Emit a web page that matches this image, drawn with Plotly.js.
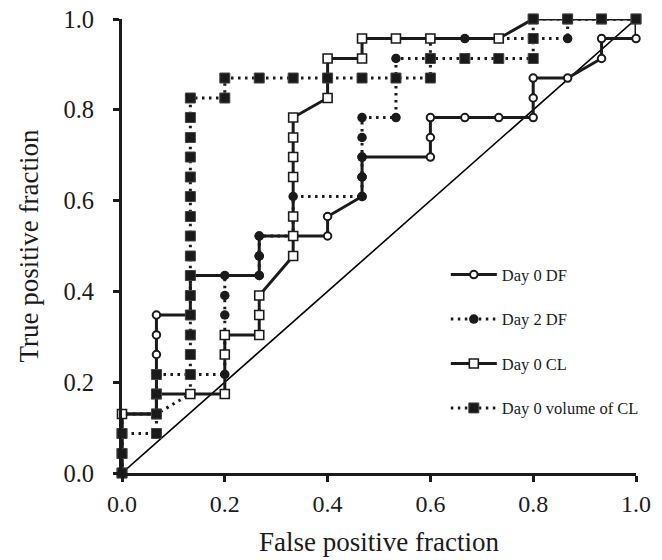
<!DOCTYPE html>
<html>
<head>
<meta charset="utf-8">
<script src="https://cdn.plot.ly/plotly-3.0.1.min.js"></script>
<style>html,body{margin:0;padding:0;background:#fff;}#chart{width:662px;height:560px;}</style>
</head>
<body>
<div id="chart"></div>
<script>
const seriesNames = ["Day 0 DF", "Day 2 DF", "Day 0 CL", "Day 0 volume of CL"];

const day0DF_x = [0, 0, 0, 0, 0.067, 0.067, 0.067, 0.067, 0.067, 0.067, 0.133, 0.133, 0.133, 0.267, 0.267, 0.267, 0.4, 0.4, 0.467, 0.467, 0.467, 0.6, 0.6, 0.6, 0.667, 0.733, 0.8, 0.8, 0.8, 0.867, 0.933, 0.933, 1, 1];
const day0DF_y = [0, 0.043, 0.087, 0.13, 0.13, 0.174, 0.217, 0.261, 0.304, 0.348, 0.348, 0.391, 0.435, 0.435, 0.478, 0.522, 0.522, 0.565, 0.609, 0.652, 0.696, 0.696, 0.739, 0.783, 0.783, 0.783, 0.783, 0.826, 0.87, 0.87, 0.913, 0.957, 0.957, 1];

const day2DF_x = [0, 0, 0, 0, 0.067, 0.133, 0.133, 0.2, 0.2, 0.2, 0.2, 0.2, 0.2, 0.267, 0.267, 0.267, 0.333, 0.333, 0.333, 0.467, 0.467, 0.467, 0.467, 0.467, 0.533, 0.533, 0.533, 0.6, 0.6, 0.667, 0.733, 0.8, 0.867, 0.867, 0.933, 1];
const day2DF_y = [0, 0.043, 0.087, 0.13, 0.13, 0.174, 0.217, 0.217, 0.261, 0.304, 0.348, 0.391, 0.435, 0.435, 0.478, 0.522, 0.522, 0.565, 0.609, 0.609, 0.652, 0.696, 0.739, 0.783, 0.783, 0.87, 0.913, 0.913, 0.957, 0.957, 0.957, 0.957, 0.957, 1, 1, 1];

const day0CL_x = [0, 0, 0, 0, 0.067, 0.067, 0.133, 0.2, 0.2, 0.2, 0.267, 0.267, 0.267, 0.333, 0.333, 0.333, 0.333, 0.333, 0.333, 0.333, 0.4, 0.4, 0.467, 0.467, 0.533, 0.6, 0.733, 0.8, 0.867, 0.933, 1];
const day0CL_y = [0, 0.043, 0.087, 0.13, 0.13, 0.174, 0.174, 0.174, 0.261, 0.304, 0.304, 0.348, 0.391, 0.478, 0.522, 0.565, 0.652, 0.696, 0.739, 0.783, 0.826, 0.913, 0.913, 0.957, 0.957, 0.957, 0.957, 1, 1, 1, 1];

const volCL_x = [0, 0, 0, 0.067, 0.067, 0.067, 0.067, 0.133, 0.133, 0.133, 0.133, 0.133, 0.133, 0.133, 0.133, 0.133, 0.133, 0.133, 0.133, 0.133, 0.133, 0.133, 0.2, 0.2, 0.267, 0.333, 0.4, 0.467, 0.533, 0.6, 0.6, 0.667, 0.733, 0.8, 0.8, 0.8, 0.867, 0.933, 1];
const volCL_y = [0, 0.043, 0.087, 0.087, 0.13, 0.174, 0.217, 0.217, 0.261, 0.304, 0.348, 0.391, 0.435, 0.478, 0.522, 0.565, 0.609, 0.652, 0.696, 0.739, 0.783, 0.826, 0.826, 0.87, 0.87, 0.87, 0.87, 0.87, 0.87, 0.87, 0.913, 0.913, 0.913, 0.913, 0.957, 1, 1, 1, 1];

const refLine_x = [0, 1];
const refLine_y = [0, 1];

const xTickVals = [0, 0.2, 0.4, 0.6, 0.8, 1.0];
const xTickText = ["0.0", "0.2", "0.4", "0.6", "0.8", "1.0"];
const yTickVals = [0, 0.2, 0.4, 0.6, 0.8, 1.0];
const yTickText = ["0.0", "0.2", "0.4", "0.6", "0.8", "1.0"];

const dotDash = "2.5px,4.5px";
const serif = "Liberation Serif, Times New Roman, serif";

const traces = [
  {x: refLine_x, y: refLine_y, mode: "lines", line: {color: "#000", width: 1.6}, showlegend: false, hoverinfo: "skip", cliponaxis: false},
  {x: day0DF_x, y: day0DF_y, name: seriesNames[0], legendgroup: "a", mode: "lines+markers",
   line: {color: "#1a1a1a", width: 3},
   marker: {symbol: "circle", size: 7.5, color: "#fff", line: {color: "#1a1a1a", width: 2}}, cliponaxis: false},
  {x: day2DF_x, y: day2DF_y, name: seriesNames[1], legendgroup: "b", mode: "lines+markers",
   line: {color: "#1a1a1a", width: 3, dash: dotDash},
   marker: {symbol: "circle", size: 9.5, color: "#1a1a1a"}, cliponaxis: false},
  {x: day0CL_x, y: day0CL_y, name: seriesNames[2], legendgroup: "c", mode: "lines+markers",
   line: {color: "#1a1a1a", width: 3},
   marker: {symbol: "square", size: 9, color: "#fff", line: {color: "#1a1a1a", width: 1.6}}, cliponaxis: false},
  {x: volCL_x, y: volCL_y, name: seriesNames[3], legendgroup: "d", mode: "lines+markers",
   line: {color: "#1a1a1a", width: 3, dash: dotDash},
   marker: {symbol: "square", size: 10, color: "#1a1a1a", line: {color: "#444", width: 1}}, cliponaxis: false}
];

const layout = {
  width: 662, height: 560,
  paper_bgcolor: "#fff", plot_bgcolor: "#fff",
  margin: {l: 122, r: 26, t: 19, b: 87},
  font: {family: serif, color: "#1a1a1a"},
  showlegend: true,
  legend: {x: 0.63, y: 0.475, xanchor: "left", yanchor: "top", bgcolor: "rgba(0,0,0,0)",
           font: {family: serif, size: 16.5, color: "#1a1a1a"}, itemwidth: 46, tracegroupgap: 20, traceorder: "grouped"},
  xaxis: {range: [0, 1], tickvals: xTickVals, ticktext: xTickText, showgrid: false, zeroline: false,
          showline: true, linecolor: "#1a1a1a", linewidth: 3, ticks: "outside", ticklen: 6, tickwidth: 3, tickcolor: "#1a1a1a",
          tickfont: {family: serif, size: 24, color: "#1a1a1a"}, ticklabelstandoff: 1,
          title: {text: "False positive fraction", font: {family: serif, size: 27, color: "#1a1a1a"}, standoff: 17}},
  yaxis: {range: [0, 1], tickvals: yTickVals, ticktext: yTickText, showgrid: false, zeroline: false,
          showline: true, linecolor: "#1a1a1a", linewidth: 3, ticks: "outside", ticklen: 6, tickwidth: 3, tickcolor: "#1a1a1a",
          tickfont: {family: serif, size: 24.5, color: "#1a1a1a"}, ticklabelstandoff: 14,
          title: {text: "True positive fraction", font: {family: serif, size: 27, color: "#1a1a1a"}, standoff: 18}}
};

Plotly.newPlot("chart", traces, layout, {staticPlot: true, displayModeBar: false});
</script>
</body>
</html>
